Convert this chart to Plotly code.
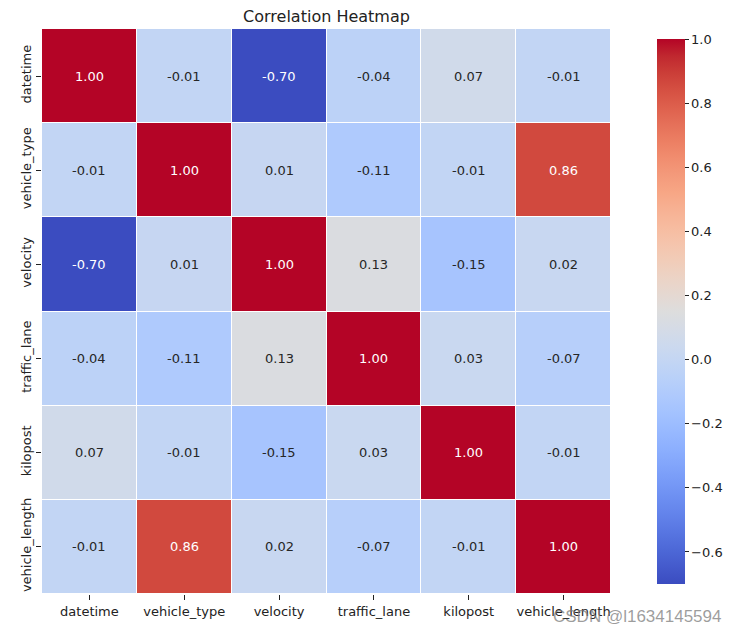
import plotly.graph_objects as go

labels = ["datetime", "vehicle_type", "velocity", "traffic_lane", "kilopost", "vehicle_length"]
corr = [
    [1.00, -0.01, -0.70, -0.04, 0.07, -0.01],
    [-0.01, 1.00, 0.01, -0.11, -0.01, 0.86],
    [-0.70, 0.01, 1.00, 0.13, -0.15, 0.02],
    [-0.04, -0.11, 0.13, 1.00, 0.03, -0.07],
    [0.07, -0.01, -0.15, 0.03, 1.00, -0.01],
    [-0.01, 0.86, 0.02, -0.07, -0.01, 1.00],
]
cbar_ticks = [-0.6, -0.4, -0.2, 0.0, 0.2, 0.4, 0.6, 0.8, 1.0]

coolwarm_rgb = [
    (59, 76, 192), (68, 90, 204), (77, 104, 215), (87, 117, 225), (98, 130, 234),
    (108, 142, 241), (119, 154, 247), (130, 165, 251), (141, 176, 254), (152, 185, 255),
    (163, 194, 255), (174, 201, 253), (184, 208, 249), (194, 213, 244), (204, 217, 238),
    (213, 219, 230), (221, 221, 221), (229, 216, 209), (236, 211, 197), (241, 204, 184),
    (245, 196, 172), (247, 187, 159), (247, 177, 147), (247, 166, 133), (244, 154, 123),
    (241, 141, 111), (236, 127, 99), (229, 112, 89), (222, 96, 77), (213, 80, 66),
    (203, 62, 56), (192, 40, 47), (180, 4, 38),
]
n = len(coolwarm_rgb) - 1
colorscale = [[i / n, "rgb(%d,%d,%d)" % c] for i, c in enumerate(coolwarm_rgb)]

zmin = min(min(r) for r in corr)
zmax = 1.0

# page body has an 8px default margin; positions below compensate for it
L, T, R, B = 34, 21, 603, 586
W, H = 736, 630

fig = go.Figure(go.Heatmap(
    z=corr, x=labels, y=labels,
    colorscale=colorscale, zmin=zmin, zmax=zmax,
    xgap=1, ygap=1,
    colorbar=dict(
        x=(639 - L) / (R - L), xanchor="left", y=0.5, yanchor="middle", len=1.0, lenmode="fraction",
        thickness=28, thicknessmode="pixels", outlinewidth=0,
        tickvals=cbar_ticks,
        ticktext=[("%.1f" % v).replace("-", "\u2212") for v in cbar_ticks],
        ticks="outside", ticklen=4, tickcolor="#222", tickwidth=1,
        tickfont=dict(family="DejaVu Sans", size=13, color="#222"),
    ),
    hoverinfo="skip",
))

annotations = []
for i, row in enumerate(corr):
    for j, v in enumerate(row):
        dark = abs(v) > 0.5
        annotations.append(dict(
            x=labels[j], y=labels[i], text="%.2f" % v, showarrow=False,
            font=dict(family="DejaVu Sans", size=13, color="white" if dark else "#262626"),
        ))
annotations.append(dict(
    xref="paper", yref="paper", x=(629 - L) / (R - L), y=(B - 608) / (B - T),
    xanchor="center", yanchor="middle",
    text="CSDN @l1634145594", showarrow=False,
    font=dict(family="Liberation Sans", size=17, color="rgba(125,125,125,0.75)"),
))

fig.update_layout(
    width=W, height=H,
    margin=dict(l=L, r=W - R, t=T, b=H - B, autoexpand=False),
    paper_bgcolor="white", plot_bgcolor="white",
    title=dict(text="Correlation Heatmap", x=((L + R) / 2) / W, xanchor="center",
               y=1 - 8 / H, yanchor="middle",
               font=dict(family="DejaVu Sans", size=16, color="#222")),
    xaxis=dict(showgrid=False, zeroline=False, ticks="outside", ticklen=5, tickcolor="#222",
               tickfont=dict(family="DejaVu Sans", size=13, color="#222"), tickangle=0),
    yaxis=dict(showgrid=False, zeroline=False, autorange="reversed", ticks="outside",
               ticklen=5, tickcolor="#222", tickangle=-90,
               tickfont=dict(family="DejaVu Sans", size=13, color="#222")),
    annotations=annotations,
    font=dict(family="DejaVu Sans"),
)

fig.write_html("out.html")
